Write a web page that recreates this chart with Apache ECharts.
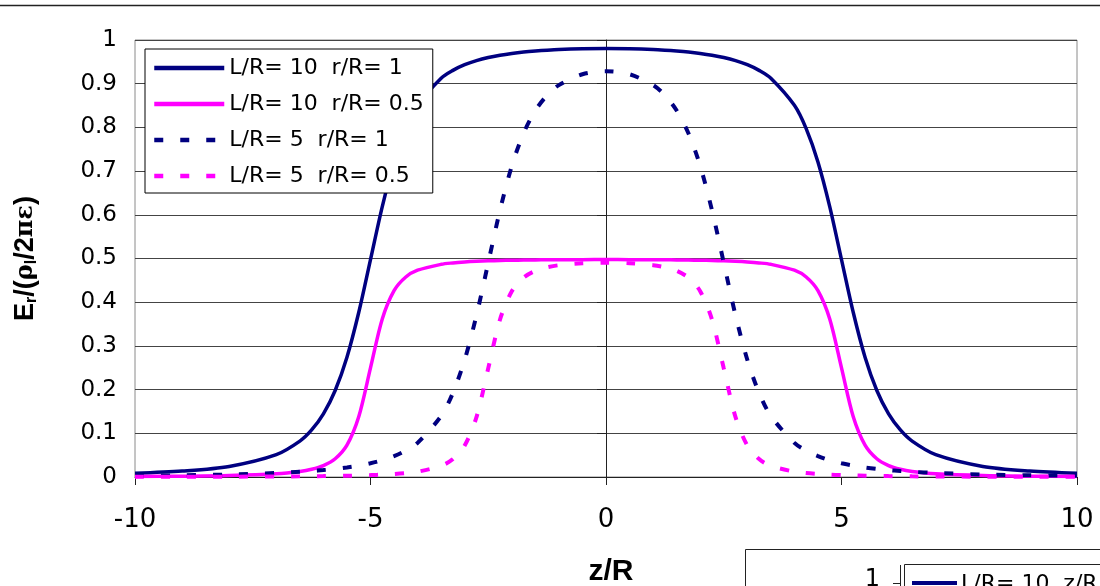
<!DOCTYPE html>
<html>
<head>
<meta charset="utf-8">
<script src="https://cdn.jsdelivr.net/npm/echarts@6/dist/echarts.min.js"></script>
<style>
html, body { margin: 0; padding: 0; background: #fff; }
#main { width: 1100px; height: 586px; }
</style>
</head>
<body>
<div id="main"></div>
<script>
// z/R sample points
var zR = [-10, -9, -8, -7, -6.5, -6.25, -6, -5.75, -5.5, -5.25, -5, -4.75, -4.5, -4.25, -4, -3.5, -3.25, -3, -2.75, -2.5, -2.25, -2, -1.75, -1.5, -1.25, -1, -0.5, 0,
    0.5, 1, 1.25, 1.5, 1.75, 2, 2.25, 2.5, 2.75, 3, 3.25, 3.5, 4, 4.25, 4.5, 4.75, 5, 5.25, 5.5, 5.75, 6, 6.25, 6.5, 7, 8, 9, 10];

// L/R=10 r/R=1
var lr10r1 = [0.0086, 0.0137, 0.0242, 0.0511, 0.0821, 0.1076, 0.1444, 0.1979, 0.2741, 0.3764, 0.4975, 0.6187, 0.7209, 0.7971, 0.8505, 0.9126, 0.9305, 0.9434, 0.9528, 0.9599, 0.9652, 0.9693, 0.9725, 0.9749, 0.9768, 0.9783, 0.9800, 0.9806,
    0.9800, 0.9783, 0.9768, 0.9749, 0.9725, 0.9693, 0.9652, 0.9599, 0.9528, 0.9434, 0.9305, 0.9126, 0.8505, 0.7971, 0.7209, 0.6187, 0.4975, 0.3764, 0.2741, 0.1979, 0.1444, 0.1076, 0.0821, 0.0511, 0.0242, 0.0137, 0.0086];
// L/R=10 r/R=0.5
var lr10r05 = [0.0011, 0.0018, 0.0032, 0.0072, 0.0126, 0.0176, 0.0261, 0.0417, 0.0729, 0.1379, 0.2497, 0.3615, 0.4264, 0.4576, 0.4732, 0.4867, 0.4899, 0.4920, 0.4935, 0.4946, 0.4954, 0.4960, 0.4964, 0.4968, 0.4970, 0.4972, 0.4974, 0.4975,
    0.4974, 0.4972, 0.4970, 0.4968, 0.4964, 0.4960, 0.4954, 0.4946, 0.4935, 0.4920, 0.4899, 0.4867, 0.4732, 0.4576, 0.4264, 0.3615, 0.2497, 0.1379, 0.0729, 0.0417, 0.0261, 0.0176, 0.0126, 0.0072, 0.0032, 0.0018, 0.0011];
// L/R=5 r/R=1
var lr5r1 = [0.0028, 0.0039, 0.0058, 0.0092, 0.0119, 0.0136, 0.0158, 0.0185, 0.0218, 0.0260, 0.0314, 0.0384, 0.0478, 0.0605, 0.0782, 0.1396, 0.1926, 0.2683, 0.3699, 0.4903, 0.6105, 0.7117, 0.7867, 0.8386, 0.8736, 0.8968, 0.9216, 0.9285,
    0.9216, 0.8968, 0.8736, 0.8386, 0.7867, 0.7117, 0.6105, 0.4903, 0.3699, 0.2683, 0.1926, 0.1396, 0.0782, 0.0605, 0.0478, 0.0384, 0.0314, 0.0260, 0.0218, 0.0185, 0.0158, 0.0136, 0.0119, 0.0092, 0.0058, 0.0039, 0.0028];
// L/R=5 r/R=0.5
var lr5r05 = [0.0004, 0.0005, 0.0007, 0.0012, 0.0015, 0.0018, 0.0021, 0.0025, 0.0029, 0.0035, 0.0043, 0.0054, 0.0068, 0.0089, 0.0121, 0.0255, 0.0410, 0.0722, 0.1371, 0.2488, 0.3604, 0.4252, 0.4563, 0.4717, 0.4799, 0.4847, 0.4891, 0.4903,
    0.4891, 0.4847, 0.4799, 0.4717, 0.4563, 0.4252, 0.3604, 0.2488, 0.1371, 0.0722, 0.0410, 0.0255, 0.0121, 0.0089, 0.0068, 0.0054, 0.0043, 0.0035, 0.0029, 0.0025, 0.0021, 0.0018, 0.0015, 0.0012, 0.0007, 0.0005, 0.0004];

var names = ['L/R= 10  r/R= 1', 'L/R= 10  r/R= 0.5', 'L/R= 5  r/R= 1', 'L/R= 5  r/R= 0.5'];

var FONT = 'DejaVu Sans';
var NAVY = '#000080';
var PINK = '#ff00ff';

function pairs(ys) {
    return zR.map(function (z, i) { return [z, ys[i]]; });
}
function mkLine(name, ys, color, dashed) {
    return {
        name: name,
        type: 'line',
        data: pairs(ys),
        symbol: 'none',
        smooth: 0.3,
        itemStyle: { color: color },
        lineStyle: { color: color, width: dashed ? 4 : 3.5, type: dashed ? [9, 17] : 'solid', cap: 'butt' }
    };
}

var myChart = echarts.init(document.getElementById('main'));
var option = {
    backgroundColor: '#fff',
    animation: false,
    grid: {
        left: 135, right: 23, top: 40, bottom: 109,
        containLabel: false, outerBoundsMode: 'none',
        show: true, borderColor: '#8a8a8a', borderWidth: 1
    },
    legend: {
        orient: 'vertical',
        left: 145, top: 49,
        padding: [8, 9, 6, 7],
        itemGap: 14,
        itemWidth: 70, itemHeight: 14,
        backgroundColor: '#fff',
        borderColor: '#000', borderWidth: 1,
        itemStyle: { opacity: 0 },
        lineStyle: { width: 4.5 },
        textStyle: { fontFamily: FONT, fontSize: 22, color: '#000' },
        data: names
    },
    xAxis: {
        type: 'value',
        min: -10, max: 10, interval: 5,
        name: 'z/R',
        nameLocation: 'middle',
        nameGap: 80,
        nameTextStyle: { fontFamily: 'Liberation Sans', fontSize: 30, fontWeight: 'bold', color: '#000', padding: [0, 0, 0, 10] },
        axisLine: { onZero: false, lineStyle: { color: '#222', width: 1 } },
        axisTick: { show: true, inside: false, length: 8, lineStyle: { color: '#222' } },
        axisLabel: { fontFamily: FONT, fontSize: 26, color: '#000', margin: 30 },
        splitLine: { show: false }
    },
    yAxis: {
        type: 'value',
        min: 0, max: 1, interval: 0.1,
        name: '{b|E}{s|r}{b|/(}{g|ρ}{s|l}{b|/2}{g|πε}{b|)}',
        nameLocation: 'middle',
        nameGap: 95,
        nameRotate: 90,
        nameTextStyle: {
            rich: {
                b: { fontFamily: 'Liberation Sans', fontSize: 27, fontWeight: 'bold', color: '#000' },
                g: { fontFamily: 'DejaVu Serif', fontSize: 24, fontWeight: 'bold', color: '#000' },
                s: { fontFamily: 'Liberation Sans', fontSize: 16, fontWeight: 'bold', color: '#000', verticalAlign: 'bottom', padding: [12, 0, 0, 0] }
            }
        },
        axisLine: { show: true, lineStyle: { color: '#222', width: 1 } },
        axisTick: { show: true, inside: false, length: 9, lineStyle: { color: '#222' } },
        axisLabel: {
            fontFamily: FONT, fontSize: 23, color: '#000', margin: 18,
            formatter: function (v) { return String(+v.toFixed(1)); }
        },
        splitLine: { show: true, lineStyle: { color: '#444', width: 1 } }
    },
    series: [
        mkLine(names[0], lr10r1, NAVY, false),
        mkLine(names[1], lr10r05, PINK, false),
        mkLine(names[2], lr5r1, NAVY, true),
        mkLine(names[3], lr5r05, PINK, true)
    ],
    graphic: [
        // frame edge of the chart above
        { type: 'line', z: 10, shape: { x1: 0, y1: 5.5, x2: 1100, y2: 5.5 }, style: { stroke: '#222', lineWidth: 1.5 } },
        // corner of the next chart below
        { type: 'rect', z: 10, shape: { x: 745.5, y: 549.5, width: 400, height: 100 }, style: { fill: '#fff', stroke: '#222', lineWidth: 1 } },
        { type: 'text', z: 11, style: { x: 880, y: 580, text: '1', font: '24px "DejaVu Sans"', fill: '#000', align: 'right', verticalAlign: 'middle' } },
        { type: 'line', z: 11, shape: { x1: 900.5, y1: 565, x2: 900.5, y2: 600 }, style: { stroke: '#222', lineWidth: 1 } },
        { type: 'line', z: 11, shape: { x1: 893, y1: 583.5, x2: 900, y2: 583.5 }, style: { stroke: '#222', lineWidth: 1 } },
        { type: 'rect', z: 11, shape: { x: 904.5, y: 564.5, width: 300, height: 60 }, style: { fill: '#fff', stroke: '#222', lineWidth: 1 } },
        { type: 'line', z: 12, shape: { x1: 912, y1: 583, x2: 957, y2: 583 }, style: { stroke: NAVY, lineWidth: 4 } },
        { type: 'text', z: 12, style: { x: 961, y: 584, text: 'L/R= 10  z/R', font: '22px "DejaVu Sans"', fill: '#000', verticalAlign: 'middle' } }
    ]
};
myChart.setOption(option);
</script>
</body>
</html>
